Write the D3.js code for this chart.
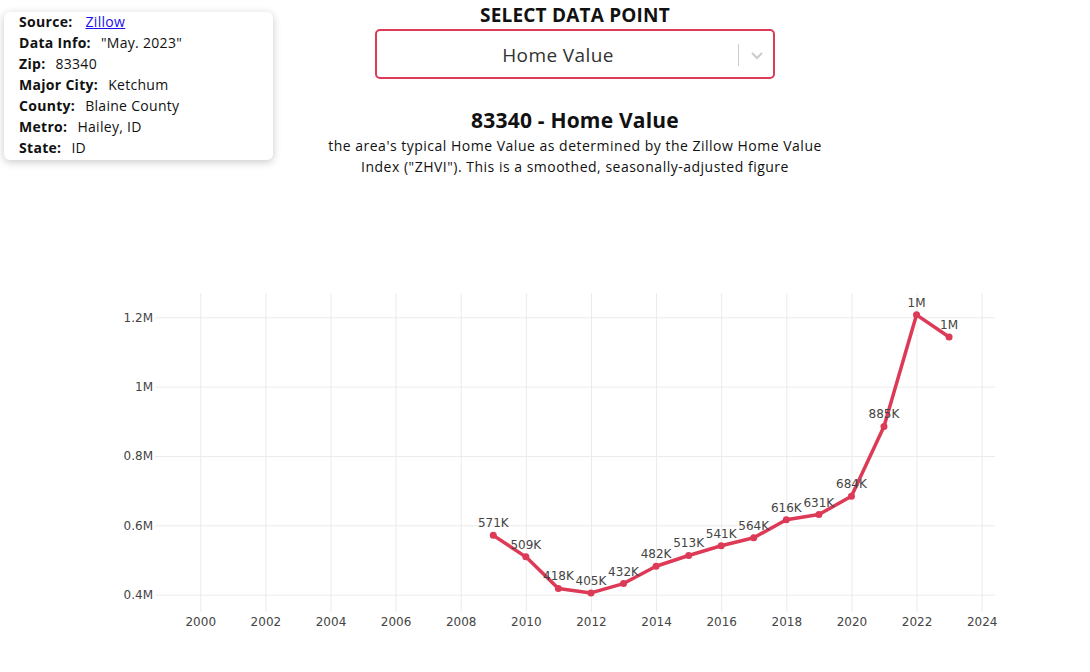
<!DOCTYPE html>
<html>
<head>
<meta charset="utf-8">
<script src="https://cdn.jsdelivr.net/npm/d3@7"></script>
<style>
  html, body { margin: 0; padding: 0; background: #fff; }
  body { width: 1090px; height: 672px; position: relative; overflow: hidden; font-family: 'Open Sans', sans-serif; color: #111; }
  .info { position: absolute; left: 4px; top: 12px; width: 269px; height: 148px; background: #fff; border-radius: 6px;
    box-shadow: 0 2px 8px rgba(0,0,0,0.22); font-size: 14px; letter-spacing: 0.3px; }
  .info div { position: absolute; left: 15px; white-space: nowrap; }
  .info b { font-weight: 700; margin-right: 10px; }
  .info a { color: #1a0dee; text-decoration: underline; margin-left: 3px; }
  .pick-title { position: absolute; left: 0; width: 1150px; top: 2px; text-align: center; font-weight: 700; font-size: 19px; letter-spacing: 0.2px; }
  .select { position: absolute; left: 375px; top: 29px; width: 396px; height: 46px; border: 2px solid #dc3a56; border-radius: 5px; }
  .select .val { position: absolute; left: 0; width: 362px; top: 11px; text-align: center; font-size: 19px; letter-spacing: 0.4px; color: #333; }
  .select .sep { position: absolute; left: 361px; top: 13px; width: 1px; height: 22px; background: #ccc; }
  .chart-title { position: absolute; left: 0; width: 1150px; top: 106px; text-align: center; font-weight: 700; font-size: 21px; letter-spacing: 0.2px; }
  .chart-sub { position: absolute; left: 310px; width: 530px; top: 135px; text-align: center; font-size: 14px; letter-spacing: 0.5px; line-height: 21px; }
  svg.chart { position: absolute; left: 0; top: 0; }
  .grid line { stroke: #ebebeb; stroke-width: 1; }
  .grid path { display: none; }
  .tick text { fill: #444; font-family: 'DejaVu Sans', sans-serif; font-size: 12px; }
</style>
</head>
<body>
<script>
const years = [2009, 2010, 2011, 2012, 2013, 2014, 2015, 2016, 2017, 2018, 2019, 2020, 2021, 2022, 2023]
const homeValues = [571000, 509000, 418000, 405000, 432000, 482000, 513000, 541000, 564000, 616000, 631000, 684000, 885000, 1207000, 1143000]
const xTickYears = [2000, 2002, 2004, 2006, 2008, 2010, 2012, 2014, 2016, 2018, 2020, 2022, 2024]
const yTickValues = [400000, 600000, 800000, 1000000, 1200000]
const infoLabels = ['Source:', 'Data Info:', 'Zip:', 'Major City:', 'County:', 'Metro:', 'State:']
const infoValues = ['Zillow', '"May. 2023"', '83340', 'Ketchum', 'Blaine County', 'Hailey, ID', 'ID']

const body = d3.select('body')

// info card
const info = body.append('div').attr('class', 'info')
infoLabels.forEach((lab, i) => {
  const row = info.append('div').style('top', (0 + i * 21) + 'px')
  row.append('b').text(lab)
  if (i === 0) row.append('a').attr('href', '#').text(infoValues[i])
  else row.append('span').text(infoValues[i])
})

body.append('div').attr('class', 'pick-title').text('SELECT DATA POINT')
const sel = body.append('div').attr('class', 'select')
sel.append('div').attr('class', 'val').text('Home Value')
sel.append('div').attr('class', 'sep')
const chev = sel.append('svg').attr('width', 14).attr('height', 10)
  .style('position', 'absolute').style('left', '373px').style('top', '20px')
chev.append('path').attr('d', 'M2,2 L7,7 L12,2').attr('fill', 'none').attr('stroke', '#ccc').attr('stroke-width', 2)

body.append('div').attr('class', 'chart-title').text('83340 - Home Value')
body.append('div').attr('class', 'chart-sub')
  .html('the area\'s typical Home Value as determined by the Zillow Home Value<br>Index ("ZHVI"). This is a smoothed, seasonally-adjusted figure')

// chart
const WIDTH = 1090
const HEIGHT = 672
const plot = {left: 155, right: 995, top: 293, bottom: 612}

const svg = body.append('svg').attr('class', 'chart')
  .attr('width', WIDTH).attr('height', HEIGHT)

const x = d3.scaleLinear().domain([1998.61, 2024.41]).range([plot.left, plot.right])
const y = d3.scaleLinear().domain([350000, 1270000]).range([plot.bottom, plot.top])

// gridlines in x axis
svg.append('g')
  .attr('class', 'grid')
  .attr('transform', 'translate(0,' + plot.bottom + ')')
  .call(d3.axisBottom(x)
    .tickValues(xTickYears)
    .tickSize(-(plot.bottom - plot.top))
    .tickPadding(5)
    .tickFormat(d3.format('d'))
  )

// gridlines in y axis
svg.append('g')
  .attr('class', 'grid')
  .attr('transform', 'translate(' + plot.left + ',0)')
  .call(d3.axisLeft(y)
    .tickValues(yTickValues)
    .tickSize(-(plot.right - plot.left))
    .tickPadding(2)
    .tickFormat(d => (d / 1e6) + 'M')
  )

const color = '#dc3a56'
const pts = years.map((yr, i) => ({year: yr, value: homeValues[i]}))

svg.append('path')
  .datum(pts)
  .attr('fill', 'none')
  .attr('stroke', color)
  .attr('stroke-width', 3.5)
  .attr('stroke-linejoin', 'round')
  .attr('d', d3.line().x(d => x(d.year)).y(d => y(d.value)))

svg.selectAll('circle.pt')
  .data(pts)
  .enter()
  .append('circle')
  .attr('class', 'pt')
  .attr('cx', d => x(d.year))
  .attr('cy', d => y(d.value))
  .attr('r', 3.5)
  .attr('fill', color)

function shortLabel (v) {
  return v >= 1e6 ? Math.floor(v / 1e6) + 'M' : Math.round(v / 1000) + 'K'
}

svg.selectAll('text.lbl')
  .data(pts)
  .enter()
  .append('text')
  .attr('class', 'lbl')
  .attr('x', d => x(d.year))
  .attr('y', d => y(d.value) - 8)
  .attr('text-anchor', 'middle')
  .style('font-family', 'DejaVu Sans, sans-serif')
  .style('font-size', '12px')
  .style('fill', '#444')
  .text(d => shortLabel(d.value))
</script>
</body>
</html>
